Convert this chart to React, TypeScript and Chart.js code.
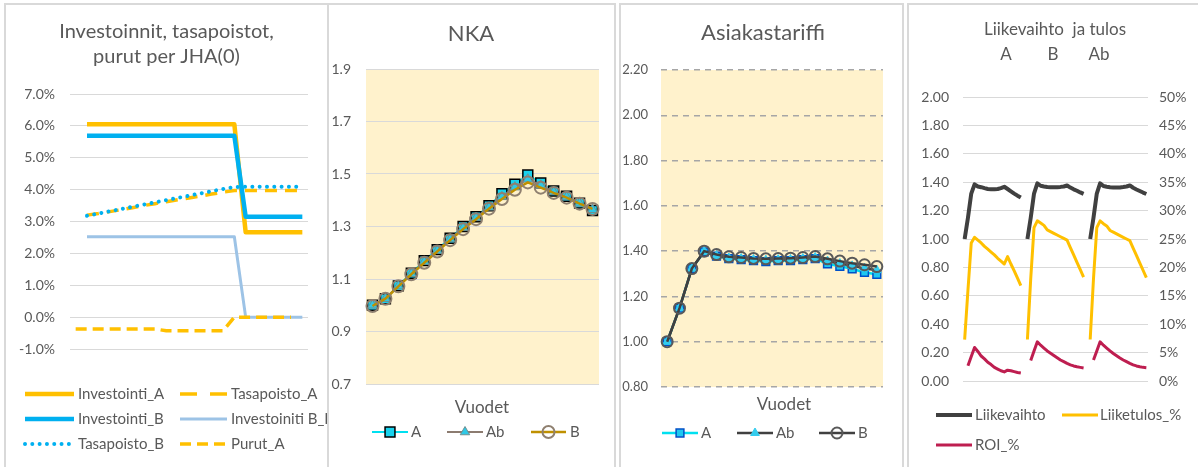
import React, { useEffect, useRef } from 'react';
import { Chart, registerables } from 'chart.js';

Chart.register(...registerables);

const FONT = 'Lato, "Noto Sans", sans-serif';
const TEXT = '#595959';
const GRID = '#D9D9D9';

// ---------- Panel 1: Investoinnit, tasapoistot, purut per JHA(0) ----------
const invYears = ['0', '1', '2', '3', '4', '5', '6', '7', '8', '9', '10', '11', '12', '13', '14', '15', '16', '17', '18', '19', '20'];
const investointiA = [null, 6.05, 6.05, 6.05, 6.05, 6.05, 6.05, 6.05, 6.05, 6.05, 6.05, 6.05, 6.05, 6.05, 6.05, 2.66, 2.66, 2.66, 2.66, 2.66, 2.66];
const tasapoistoA = [null, 3.2, 3.25, 3.31, 3.37, 3.43, 3.5, 3.56, 3.62, 3.68, 3.74, 3.8, 3.86, 3.92, 3.97, 3.97, 3.97, 3.97, 3.97, 3.97, 3.97];
const investointiB = [null, 5.69, 5.69, 5.69, 5.69, 5.69, 5.69, 5.69, 5.69, 5.69, 5.69, 5.69, 5.69, 5.69, 5.69, 3.15, 3.15, 3.15, 3.15, 3.15, 3.15];
const investointiBL = [null, 2.52, 2.52, 2.52, 2.52, 2.52, 2.52, 2.52, 2.52, 2.52, 2.52, 2.52, 2.52, 2.52, 2.52, 0, 0, 0, 0, 0, 0];
const tasapoistoB = [null, 3.18, 3.25, 3.32, 3.39, 3.46, 3.53, 3.6, 3.67, 3.74, 3.81, 3.88, 3.95, 4.02, 4.08, 4.09, 4.09, 4.09, 4.09, 4.09, 4.09];
const purutA = [-0.37, -0.37, -0.37, -0.37, -0.37, -0.37, -0.37, -0.37, -0.43, -0.43, -0.43, -0.43, -0.43, -0.43, 0, 0, 0, 0, 0, 0, null];

// ---------- Panel 2: NKA ----------
const years = ['0', '1', '2', '3', '4', '5', '6', '7', '8', '9', '10', '11', '12', '13', '14', '15', '16', '17'];
const nkaA = [1.0, 1.025, 1.074, 1.122, 1.17, 1.212, 1.255, 1.3, 1.337, 1.379, 1.425, 1.461, 1.496, 1.466, 1.435, 1.415, 1.389, 1.361];
const nkaAb = [1.0, 1.025, 1.073, 1.12, 1.166, 1.208, 1.252, 1.295, 1.333, 1.373, 1.413, 1.45, 1.48, 1.457, 1.432, 1.412, 1.388, 1.364];
const nkaB = [0.997, 1.025, 1.072, 1.118, 1.162, 1.205, 1.248, 1.29, 1.328, 1.368, 1.405, 1.44, 1.468, 1.448, 1.428, 1.41, 1.387, 1.367];

// ---------- Panel 3: Asiakastariffi ----------
const tariffiA = [1.0, 1.148, 1.323, 1.397, 1.378, 1.367, 1.363, 1.358, 1.354, 1.358, 1.358, 1.363, 1.367, 1.344, 1.333, 1.322, 1.306, 1.298];
const tariffiAb = [1.0, 1.148, 1.323, 1.398, 1.38, 1.37, 1.367, 1.363, 1.36, 1.362, 1.363, 1.367, 1.372, 1.356, 1.345, 1.335, 1.324, 1.316];
const tariffiB = [1.0, 1.148, 1.323, 1.4, 1.385, 1.375, 1.372, 1.368, 1.366, 1.367, 1.369, 1.372, 1.376, 1.366, 1.356, 1.347, 1.34, 1.332];

// ---------- Panel 4: Liikevaihto ja tulos (groups A, B, Ab) ----------
const liikevaihtoA = [1.0, 1.15, 1.32, 1.385, 1.37, 1.365, 1.358, 1.352, 1.35, 1.35, 1.352, 1.358, 1.368, 1.352, 1.336, 1.32, 1.305, 1.292];
const liikevaihtoB = [1.0, 1.15, 1.32, 1.392, 1.375, 1.37, 1.366, 1.364, 1.364, 1.365, 1.367, 1.37, 1.377, 1.362, 1.35, 1.34, 1.328, 1.318];
const liikevaihtoAb = [1.0, 1.15, 1.32, 1.392, 1.373, 1.368, 1.364, 1.362, 1.362, 1.363, 1.366, 1.37, 1.377, 1.361, 1.349, 1.338, 1.327, 1.317];
const liiketulosA = [7.3, 16.0, 24.3, 25.3, 24.8, 24.3, 23.7, 23.2, 22.7, 22.2, 21.6, 21.1, 20.6, 21.9, 20.6, 19.4, 18.1, 16.8];
const liiketulosB = [7.3, 18.0, 27.0, 28.2, 27.8, 27.4, 26.6, 26.3, 26.0, 25.7, 25.4, 25.1, 24.8, 23.5, 22.2, 20.9, 19.6, 18.3];
const liiketulosAb = [7.3, 18.0, 27.0, 28.2, 27.7, 27.3, 26.5, 26.2, 25.9, 25.6, 25.3, 25.0, 24.7, 23.4, 22.1, 20.8, 19.5, 18.2];
const roiA = [null, 2.7, 4.3, 5.9, 5.2, 4.4, 3.9, 3.3, 2.9, 2.4, 2.1, 1.8, 1.6, 1.9, 1.8, 1.65, 1.5, 1.4];
const roiB = [null, 3.6, 5.3, 6.9, 6.3, 5.8, 5.3, 4.9, 4.5, 4.1, 3.7, 3.4, 3.1, 2.85, 2.65, 2.5, 2.4, 2.3];
const roiAb = [null, 3.7, 5.3, 6.9, 6.3, 5.8, 5.3, 4.85, 4.45, 4.05, 3.7, 3.4, 3.1, 2.85, 2.65, 2.5, 2.4, 2.35];

const groupLabels = [
  ...years.map((y) => 'A ' + y), '',
  ...years.map((y) => 'B ' + y), '',
  ...years.map((y) => 'Ab ' + y),
];
const joinGroups = (a: any[], b: any[], c: any[]) => [...a, null, ...b, null, ...c];

// ---------- helpers ----------
function drawMarker(ctx: any, style: string, x: number, y: number, r: number, fill: string, stroke: string, bw: number) {
  ctx.save();
  ctx.beginPath();
  if (style === 'rect') {
    const s = r * Math.SQRT1_2;
    ctx.rect(x - s, y - s, 2 * s, 2 * s);
  } else if (style === 'triangle') {
    for (let k = 0; k < 3; k++) {
      const a = (k * 2 * Math.PI) / 3;
      const px = x + Math.sin(a) * r;
      const py = y - Math.cos(a) * r;
      if (k === 0) ctx.moveTo(px, py);
      else ctx.lineTo(px, py);
    }
    ctx.closePath();
  } else {
    ctx.arc(x, y, r, 0, Math.PI * 2);
  }
  ctx.fillStyle = fill;
  ctx.fill();
  if (bw > 0) {
    ctx.lineWidth = bw;
    ctx.strokeStyle = stroke;
    ctx.stroke();
  }
  ctx.restore();
}

const decorPlugin = {
  id: 'decor',
  beforeDraw(chart: any, _args: any, opts: any) {
    if (opts && opts.areaBg) {
      const { left, top, width, height } = chart.chartArea;
      const ctx = chart.ctx;
      ctx.save();
      ctx.fillStyle = opts.areaBg;
      ctx.fillRect(left, top, width, height);
      ctx.restore();
    }
  },
  afterDraw(chart: any, _args: any, opts: any) {
    const ctx = chart.ctx;
    (opts.texts || []).forEach((t: any) => {
      ctx.save();
      ctx.font = `${t.size}px ${FONT}`;
      ctx.fillStyle = TEXT;
      ctx.textAlign = t.align || 'center';
      ctx.textBaseline = 'middle';
      ctx.fillText(t.text, t.x, t.y);
      ctx.restore();
    });
    (opts.legend || []).forEach((it: any) => {
      const ds = chart.data.datasets[it.ds];
      ctx.save();
      ctx.strokeStyle = ds.borderColor;
      ctx.lineWidth = ds.borderWidth;
      ctx.lineCap = ds.borderCapStyle || 'butt';
      ctx.setLineDash(it.dash || ds.borderDash || []);
      ctx.beginPath();
      ctx.moveTo(it.x1, it.y);
      ctx.lineTo(it.x2, it.y);
      ctx.stroke();
      ctx.setLineDash([]);
      if (ds.pointRadius > 0) {
        drawMarker(ctx, ds.pointStyle, (it.x1 + it.x2) / 2, it.y, ds.pointRadius, ds.pointBackgroundColor, ds.pointBorderColor, ds.pointBorderWidth);
      }
      ctx.font = `${it.size}px ${FONT}`;
      ctx.fillStyle = TEXT;
      ctx.textAlign = 'left';
      ctx.textBaseline = 'middle';
      ctx.fillText(ds.label, it.tx, it.y);
      ctx.restore();
    });
  },
};

function yScale(opts: any) {
  return {
    position: opts.position || 'left',
    min: opts.min,
    max: opts.max,
    border: { display: false, dash: opts.dash || [] },
    grid: {
      color: opts.gridColor || GRID,
      lineWidth: opts.gridWidth || 1,
      drawTicks: false,
      drawOnChartArea: opts.drawOnChartArea !== false,
    },
    ticks: {
      stepSize: opts.step,
      padding: opts.padding,
      color: TEXT,
      font: { family: FONT, size: opts.fontSize || 14 },
      callback: opts.format,
    },
    afterFit: (s: any) => {
      s.width = opts.width;
    },
  };
}

function baseOptions(padding: any, scales: any, decor: any) {
  return {
    responsive: false,
    maintainAspectRatio: false,
    animation: false,
    events: [],
    layout: { padding },
    elements: { line: { tension: 0 } },
    plugins: {
      legend: { display: false },
      title: { display: false },
      tooltip: { enabled: false },
      decor,
    },
    scales,
  };
}

const xHidden = { type: 'category', display: false, offset: true };

// ---------- Chart configs ----------
function makeInvest() {
  const mk = (label: string, data: any[], color: string, width: number, dash: number[], cap: string) => ({
    label, data, borderColor: color, backgroundColor: color, borderWidth: width, borderDash: dash,
    borderCapStyle: cap, borderJoinStyle: 'round', pointRadius: 0, fill: false, spanGaps: false,
  });
  const datasets = [
    mk('Investointi_A', investointiA, '#FFC000', 4.5, [], 'butt'),
    mk('Tasapoisto_A', tasapoistoA, '#FFC000', 3.5, [12, 8], 'butt'),
    mk('Investointi_B', investointiB, '#00B0F0', 4.5, [], 'butt'),
    mk('Investoiniti B_L', investointiBL, '#9DC3E6', 3, [], 'butt'),
    mk('Tasapoisto_B', tasapoistoB, '#00B0F0', 4, [0.01, 7.3], 'round'),
    mk('Purut_A', purutA, '#FFC000', 3.5, [11, 6], 'butt'),
  ].map((d, i, arr) => ({ ...d, order: arr.length - i }));
  const c1 = 19, c1t = 72, c2 = 174, c2t = 225;
  return {
    type: 'line',
    data: { labels: invYears, datasets },
    options: baseOptions(
      { left: 0, right: 19, top: 89, bottom: 118 },
      {
        x: xHidden,
        y: yScale({ min: -1, max: 7, step: 1, padding: 15, width: 64, format: (v: any) => Number(v).toFixed(1) + '%' }),
      },
      {
        texts: [
          { text: 'Investoinnit, tasapoistot,', x: 160.5, y: 27, size: 20 },
          { text: 'purut per JHA(0)', x: 160.5, y: 52, size: 20 },
        ],
        legend: [
          { ds: 0, x1: c1, x2: c1 + 49, tx: c1t, y: 389, size: 15 },
          { ds: 1, x1: c2, x2: c2 + 47, tx: c2t, y: 389, size: 15, dash: [17, 13] },
          { ds: 2, x1: c1, x2: c1 + 49, tx: c1t, y: 414, size: 15 },
          { ds: 3, x1: c2, x2: c2 + 47, tx: c2t, y: 414, size: 15 },
          { ds: 4, x1: c1, x2: c1 + 49, tx: c1t, y: 439, size: 15 },
          { ds: 5, x1: c2, x2: c2 + 47, tx: c2t, y: 439, size: 15 },
        ],
      }
    ),
    plugins: [decorPlugin],
  };
}

function makeNKA() {
  const datasets = [
    { label: 'A', data: nkaA, borderColor: '#00E0F0', borderWidth: 2, pointStyle: 'rect', pointRadius: 7,
      pointBackgroundColor: '#19D3EE', pointBorderColor: '#000000', pointBorderWidth: 1.5, order: 2 },
    { label: 'Ab', data: nkaAb, borderColor: '#8C7B70', borderWidth: 2, pointStyle: 'triangle', pointRadius: 5.5,
      pointBackgroundColor: '#2EC8E6', pointBorderColor: '#6F8F90', pointBorderWidth: 1, order: 1 },
    { label: 'B', data: nkaB, borderColor: '#BF9000', borderWidth: 2.5, pointStyle: 'circle', pointRadius: 6,
      pointBackgroundColor: 'rgba(0,0,0,0)', pointBorderColor: '#8F8070', pointBorderWidth: 2, order: 0 },
  ].map((d) => ({ ...d, pointHoverRadius: d.pointRadius, fill: false }));
  return {
    type: 'line',
    data: { labels: years, datasets },
    options: baseOptions(
      { left: 0, right: 15, top: 64, bottom: 83 },
      {
        x: xHidden,
        y: yScale({ min: 0.7, max: 1.9, step: 0.2, padding: 15, width: 37, format: (v: any) => Number(v).toFixed(1) }),
      },
      {
        areaBg: '#FFF2CC',
        texts: [
          { text: 'NKA', x: 142, y: 29, size: 22 },
          { text: 'Vuodet', x: 153, y: 403, size: 17 },
        ],
        legend: [
          { ds: 0, x1: 43, x2: 79, tx: 82, y: 427, size: 15 },
          { ds: 1, x1: 118, x2: 154, tx: 157, y: 427, size: 15 },
          { ds: 2, x1: 202, x2: 237, tx: 241, y: 427, size: 15 },
        ],
      }
    ),
    plugins: [decorPlugin],
  };
}

function makeTariffi() {
  const datasets = [
    { label: 'A', data: tariffiA, borderColor: '#00E0F0', borderWidth: 2.5, pointStyle: 'rect', pointRadius: 5.5,
      pointBackgroundColor: '#1EC8F0', pointBorderColor: '#0050C8', pointBorderWidth: 1.5, order: 2 },
    { label: 'Ab', data: tariffiAb, borderColor: '#404040', borderWidth: 2.5, pointStyle: 'triangle', pointRadius: 5,
      pointBackgroundColor: '#33CCEE', pointBorderColor: '#33CCEE', pointBorderWidth: 1, order: 1 },
    { label: 'B', data: tariffiB, borderColor: '#404040', borderWidth: 2.5, pointStyle: 'circle', pointRadius: 5.5,
      pointBackgroundColor: 'rgba(0,0,0,0)', pointBorderColor: '#595959', pointBorderWidth: 2, order: 0 },
  ].map((d) => ({ ...d, fill: false }));
  return {
    type: 'line',
    data: { labels: years, datasets },
    options: baseOptions(
      { left: 0, right: 19, top: 65, bottom: 80 },
      {
        x: xHidden,
        y: yScale({ min: 0.8, max: 2.2, step: 0.2, padding: 13, width: 40, fontSize: 13, gridColor: '#A6A6A6', gridWidth: 1.5, dash: [6, 5],
          format: (v: any) => Number(v).toFixed(2) }),
      },
      {
        areaBg: '#FFF2CC',
        texts: [
          { text: 'Asiakastariffi', x: 142, y: 28, size: 22 },
          { text: 'Vuodet', x: 163, y: 400, size: 17 },
        ],
        legend: [
          { ds: 0, x1: 41, x2: 77, tx: 80, y: 428, size: 15 },
          { ds: 1, x1: 116, x2: 152, tx: 155, y: 428, size: 15 },
          { ds: 2, x1: 198, x2: 234, tx: 237, y: 428, size: 15 },
        ],
      }
    ),
    plugins: [decorPlugin],
  };
}

function makeLiikevaihto() {
  const datasets = [
    { label: 'Liikevaihto', data: joinGroups(liikevaihtoA, liikevaihtoB, liikevaihtoAb), yAxisID: 'y',
      borderColor: '#404040', borderWidth: 4, order: 2 },
    { label: 'Liiketulos_%', data: joinGroups(liiketulosA, liiketulosB, liiketulosAb), yAxisID: 'y1',
      borderColor: '#FFC000', borderWidth: 3, order: 1 },
    { label: 'ROI_%', data: joinGroups(roiA, roiB, roiAb), yAxisID: 'y1',
      borderColor: '#BE1E50', borderWidth: 3, order: 0 },
  ].map((d) => ({ ...d, pointRadius: 0, fill: false, spanGaps: false, borderJoinStyle: 'round', borderCapStyle: 'butt' }));
  return {
    type: 'line',
    data: { labels: groupLabels, datasets },
    options: baseOptions(
      { left: 0, right: 0, top: 92, bottom: 86 },
      {
        x: xHidden,
        y: yScale({ min: 0, max: 2, step: 0.2, padding: 14, width: 54, format: (v: any) => Number(v).toFixed(2) }),
        y1: yScale({ position: 'right', min: 0, max: 50, step: 5, padding: 11, width: 50, drawOnChartArea: false,
          format: (v: any) => Math.round(Number(v)) + '%' }),
      },
      {
        texts: [
          { text: 'Liikevaihto  ja tulos', x: 146, y: 25, size: 17 },
          { text: 'A', x: 97, y: 50, size: 17 },
          { text: 'B', x: 144, y: 50, size: 17 },
          { text: 'Ab', x: 190, y: 50, size: 17 },
        ],
        legend: [
          { ds: 0, x1: 27, x2: 63, tx: 66, y: 410, size: 15 },
          { ds: 1, x1: 153, x2: 189, tx: 191, y: 410, size: 15 },
          { ds: 2, x1: 27, x2: 63, tx: 66, y: 440, size: 15 },
        ],
      }
    ),
    plugins: [decorPlugin],
  };
}

function ChartCanvas({ make, left, top, width, height }: any) {
  const ref = useRef<HTMLCanvasElement>(null);
  useEffect(() => {
    const chart = new Chart(ref.current as any, make() as any);
    return () => chart.destroy();
  }, []);
  return (
    <canvas
      ref={ref}
      width={width}
      height={height}
      style={{ position: 'absolute', left, top, width, height, display: 'block' }}
    />
  );
}

const panelStyle = (left: number, width: number): any => ({
  position: 'absolute',
  left,
  top: 3,
  width,
  height: 520,
  boxSizing: 'border-box',
  border: '2px solid #D9D9D9',
  borderBottom: 'none',
  background: '#FFFFFF',
});

export default function App() {
  return (
    <div style={{ position: 'fixed', left: 0, top: 0, width: 1198, height: 467, overflow: 'hidden', background: '#FFFFFF' }}>
      <div style={panelStyle(4, 325)} />
      <div style={panelStyle(327, 289)} />
      <div style={panelStyle(619, 285)} />
      <div style={panelStyle(907, 300)} />
      <ChartCanvas make={makeInvest} left={6} top={5} width={321} height={462} />
      <ChartCanvas make={makeNKA} left={329} top={5} width={285} height={462} />
      <ChartCanvas make={makeTariffi} left={621} top={5} width={281} height={462} />
      <ChartCanvas make={makeLiikevaihto} left={909} top={5} width={289} height={462} />
    </div>
  );
}
